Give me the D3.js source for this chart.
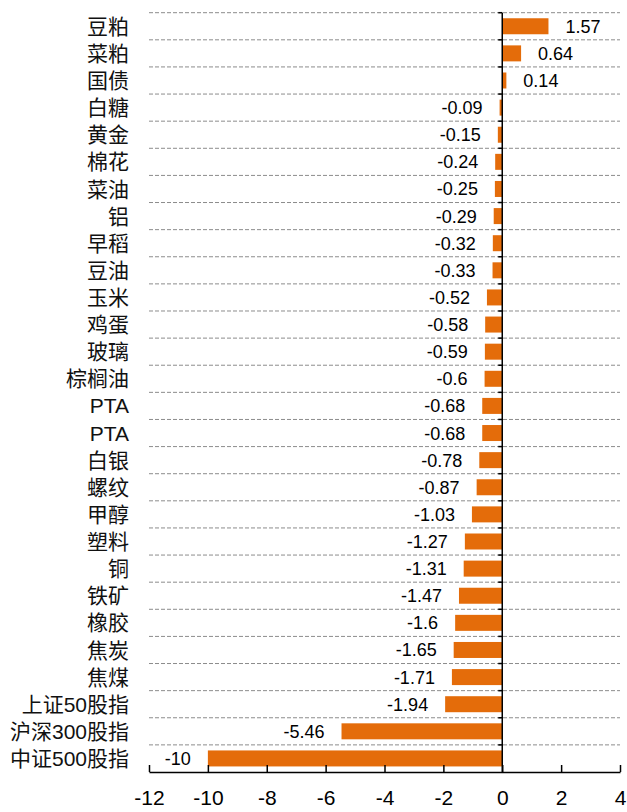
<!DOCTYPE html>
<html>
<head>
<meta charset="utf-8">
<script src="https://cdn.jsdelivr.net/npm/d3@7"></script>
<style>
  body { margin: 0; background: #fff; }
  svg text { font-family: "Liberation Sans", Arial, "Noto Sans CJK SC", sans-serif; }
</style>
</head>
<body>
<div id="chart"></div>
<script>
// categories top to bottom
const names = ["豆粕", "菜粕", "国债", "白糖", "黄金", "棉花", "菜油", "铝", "早稻", "豆油",
  "玉米", "鸡蛋", "玻璃", "棕榈油", "PTA", "PTA", "白银", "螺纹", "甲醇", "塑料",
  "铜", "铁矿", "橡胶", "焦炭", "焦煤", "上证50股指", "沪深300股指", "中证500股指"];
const values = [1.57, 0.64, 0.14, -0.09, -0.15, -0.24, -0.25, -0.29, -0.32, -0.33,
  -0.52, -0.58, -0.59, -0.6, -0.68, -0.68, -0.78, -0.87, -1.03, -1.27,
  -1.31, -1.47, -1.6, -1.65, -1.71, -1.94, -5.46, -10];
const xTicks = [-12, -10, -8, -6, -4, -2, 0, 2, 4];

const width = 627, height = 812;
const margin = { top: 12.7, right: 7, bottom: 40, left: 149 };

const svg = d3.select("#chart").append("svg")
  .attr("width", width)
  .attr("height", height);

const x = d3.scaleLinear().domain([-12, 4]).range([margin.left, width - margin.right]);
const y = d3.scaleBand().domain(d3.range(names.length))
  .range([margin.top, height - margin.bottom])
  .paddingInner(0.41).paddingOuter(0.205);

const step = y.step();
const plotBottom = height - margin.bottom;

// dashed gridlines between rows
const gridYs = d3.range(names.length).map(i => margin.top + i * step);
svg.append("g").selectAll("line")
  .data(gridYs)
  .join("line")
  .attr("x1", x(-12)).attr("x2", x(4))
  .attr("y1", d => d).attr("y2", d => d)
  .attr("stroke", "#8c8c8c")
  .attr("stroke-width", 1)
  .attr("stroke-dasharray", "4,2");

// bars
svg.append("g").selectAll("rect")
  .data(values)
  .join("rect")
  .attr("x", d => x(Math.min(0, d)))
  .attr("width", d => Math.abs(x(d) - x(0)))
  .attr("y", (d, i) => y(i))
  .attr("height", y.bandwidth())
  .attr("fill", "#e46c0a");

// value labels
svg.append("g").selectAll("text")
  .data(values)
  .join("text")
  .attr("x", d => d >= 0 ? x(d) + 17 : x(d) - 17)
  .attr("y", (d, i) => y(i) + y.bandwidth() / 2)
  .attr("dy", "0.36em")
  .attr("text-anchor", d => d >= 0 ? "start" : "end")
  .attr("font-size", 18)
  .attr("fill", "#000")
  .text(d => d);

// category labels
svg.append("g").selectAll("text")
  .data(names)
  .join("text")
  .attr("x", 129)
  .attr("y", (d, i) => y(i) + y.bandwidth() / 2)
  .attr("dy", "0.36em")
  .attr("text-anchor", "end")
  .attr("font-size", 21)
  .attr("fill", "#111")
  .text(d => d);

// zero axis with small ticks at row boundaries
const zeroAxis = svg.append("g");
zeroAxis.append("line")
  .attr("x1", x(0)).attr("x2", x(0))
  .attr("y1", margin.top).attr("y2", plotBottom)
  .attr("stroke", "#000").attr("stroke-width", 1.5);
zeroAxis.selectAll("line.tk")
  .data(gridYs)
  .join("line")
  .attr("class", "tk")
  .attr("x1", x(0) - 4).attr("x2", x(0))
  .attr("y1", d => d).attr("y2", d => d)
  .attr("stroke", "#000").attr("stroke-width", 1.5);

// bottom axis, ticks pointing up, plain hyphen for minus
const xAxis = d3.axisBottom(x).tickValues(xTicks).tickSizeInner(-7).tickSizeOuter(0)
  .tickPadding(18).tickFormat(d => String(d));
const gx = svg.append("g")
  .attr("transform", "translate(0," + plotBottom + ")")
  .call(xAxis);
gx.select(".domain").attr("stroke", "#000").attr("stroke-width", 1.5);
gx.selectAll(".tick line").attr("stroke", "#000").attr("stroke-width", 1.5);
gx.selectAll(".tick text")
  .attr("font-size", 21)
  .attr("fill", "#000")
  .attr("font-family", "Liberation Sans, Arial, sans-serif");
</script>
</body>
</html>
